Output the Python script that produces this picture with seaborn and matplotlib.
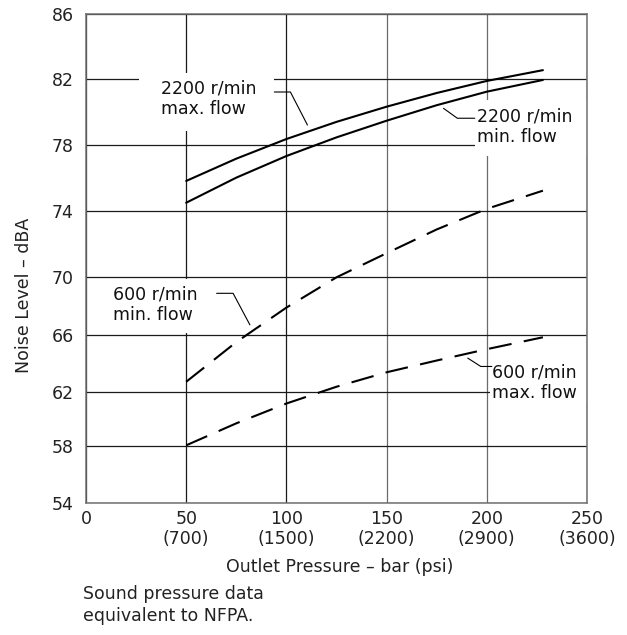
import numpy as np
import pandas as pd
import matplotlib
matplotlib.use("Agg")
import matplotlib.pyplot as plt
from matplotlib.patches import Rectangle
import seaborn as sns

# ---- data ----
pressure_bar = [50, 75, 100, 125, 150, 175, 200, 228]
noise_2200_max = [75.84, 77.19, 78.38, 79.42, 80.34, 81.17, 81.9, 82.56]
noise_2200_min = [74.52, 76.04, 77.35, 78.48, 79.49, 80.43, 81.25, 81.96]
noise_600_min = [62.7, 65.5, 67.9, 70.0, 71.46, 72.9, 74.15, 75.25]
noise_600_max = [58.05, 59.67, 61.13, 62.35, 63.37, 64.2, 65.0, 65.84]

series_names = ["2200 max", "2200 min", "600 min", "600 max"]
x_ticks = [0, 50, 100, 150, 200, 250]
x_ticklabels = ["0", "50\n(700)", "100\n(1500)", "150\n(2200)", "200\n(2900)", "250\n(3600)"]
y_ticks = [54, 58, 62, 66, 70, 74, 78, 82, 86]

df = pd.DataFrame({
    "pressure": pressure_bar * 4,
    "noise": noise_2200_max + noise_2200_min + noise_600_min + noise_600_max,
    "series": sum([[s] * len(pressure_bar) for s in series_names], []),
})

# ---- style ----
sns.set_style("white")
plt.rcParams["font.family"] = ["DejaVu Sans"]
plt.rcParams["font.size"] = 12.5

fig = plt.figure(figsize=(6.27, 6.35), dpi=100)
ax = fig.add_axes([86 / 627, 1 - 503 / 635, 501 / 627, 489 / 635])

# slightly non-uniform vertical calibration of the scanned chart
_yref = np.array([54, 58, 62, 66, 70, 74, 78, 82, 86], float)
_ucal = np.array([0, 57, 111.3, 168, 225.7, 291.7, 357.7, 423.7, 489], float)


def _fwd(y):
    y = np.asarray(y, float)
    out = np.interp(y, _yref, _ucal)
    s0 = (_ucal[1] - _ucal[0]) / (_yref[1] - _yref[0])
    s1 = (_ucal[-1] - _ucal[-2]) / (_yref[-1] - _yref[-2])
    out = np.where(y < _yref[0], _ucal[0] + (y - _yref[0]) * s0, out)
    out = np.where(y > _yref[-1], _ucal[-1] + (y - _yref[-1]) * s1, out)
    return out


def _inv(u):
    u = np.asarray(u, float)
    out = np.interp(u, _ucal, _yref)
    s0 = (_yref[1] - _yref[0]) / (_ucal[1] - _ucal[0])
    s1 = (_yref[-1] - _yref[-2]) / (_ucal[-1] - _ucal[-2])
    out = np.where(u < _ucal[0], _yref[0] + (u - _ucal[0]) * s0, out)
    out = np.where(u > _ucal[-1], _yref[-1] + (u - _ucal[-1]) * s1, out)
    return out


ax.set_yscale("function", functions=(_fwd, _inv))

sns.lineplot(
    data=df, x="pressure", y="noise", style="series",
    dashes={"2200 max": "", "2200 min": "", "600 min": (11, 6), "600 max": (11, 6)},
    color="black", linewidth=1.5, legend=False, estimator=None, ax=ax, zorder=2,
)

ax.set_xlim(0, 250)
ax.set_ylim(54, 86)
ax.set_xticks(x_ticks)
ax.set_xticklabels(x_ticklabels, linespacing=1.12)
ax.set_yticks(y_ticks)
ax.set_yticklabels([str(v) for v in y_ticks])
ax.yaxis.set_minor_locator(matplotlib.ticker.NullLocator())
ax.tick_params(axis="both", length=0, labelsize=12.5, colors="#222222")
ax.tick_params(axis="y", pad=9)
ax.tick_params(axis="x", pad=5)

ax.set_axisbelow(True)
ax.grid(True, color="#1a1a1a", linewidth=0.9)
for gl, xv in zip(ax.get_xgridlines(), x_ticks):
    if xv in (150, 200):
        gl.set_color("#6a6a6a")
for sp in ax.spines.values():
    sp.set_visible(True)
    sp.set_color("#707070")
    sp.set_linewidth(1.1)

# white label boxes that interrupt the grid
for (x0, x1, y0, y1) in [(26.4, 93.8, 78.85, 82.39),
                          (194.1, 250, 77.35, 80.75),
                          (9.5, 57, 66.15, 69.85),
                          (201.6, 250, 61.17, 64.24)]:
    ax.add_patch(Rectangle((x0, y0), x1 - x0, y1 - y0, facecolor="white",
                           edgecolor="none", zorder=1))

# curve labels and leaders
lab_kw = dict(fontsize=12.5, ha="left", va="top", linespacing=1.18, zorder=3, color="#111111")
ax.text(37.4, 81.98, "2200 r/min\nmax. flow", **lab_kw)
ax.text(195.0, 80.3, "2200 r/min\nmin. flow", **lab_kw)
ax.text(13.5, 69.4, "600 r/min\nmin. flow", **lab_kw)
ax.text(202.5, 64.0, "600 r/min\nmax. flow", **lab_kw)

ld = dict(color="black", linewidth=0.8, zorder=3)
ax.plot([94, 102, 110.5], [81.23, 81.23, 79.23], **ld)
ax.plot([178.4, 185.3, 194], [80.24, 79.64, 79.64], **ld)
ax.plot([65.2, 73.4, 81.8], [68.89, 68.89, 66.7], **ld)
ax.plot([190.5, 197, 202.5], [64.37, 63.78, 63.78], **ld)

ax.set_xlabel("Outlet Pressure – bar (psi)", fontsize=12.5, color="#222222")
ax.set_ylabel("Noise Level – dBA", fontsize=12.5, color="#222222")
ax.xaxis.set_label_coords(0.507, -0.113)
ax.yaxis.set_label_coords(-0.105, 0.425)

fig.text(83 / 627, 0.078, "Sound pressure data\nequivalent to NFPA.",
         fontsize=12.5, ha="left", va="top", linespacing=1.25, color="#222222")

fig.savefig("out.png", dpi=100, facecolor="white")
